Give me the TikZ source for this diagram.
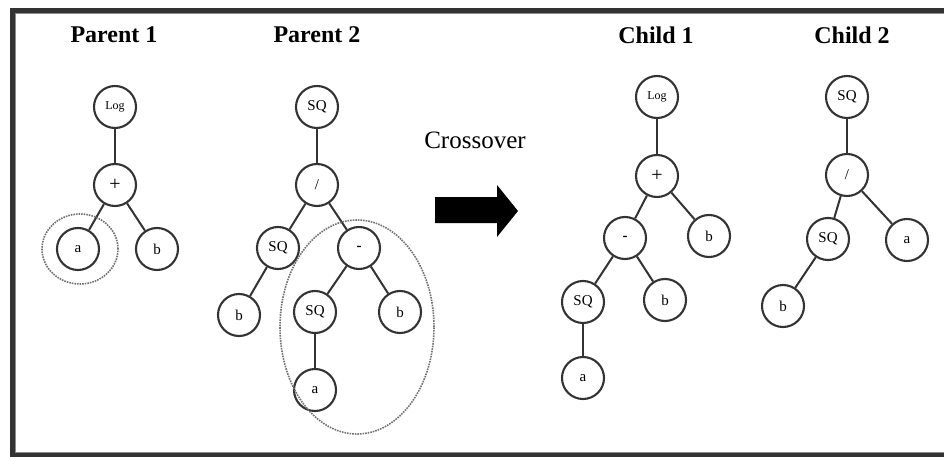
\documentclass[tikz,border=0pt]{standalone}
\usepackage{fontspec}
\setmainfont{Liberation Serif}
\usetikzlibrary{shapes.geometric}
\begin{document}
\begin{tikzpicture}[x=1pt,y=-1pt,
  tn/.style={circle,draw=black!80,line width=2.1pt,minimum size=42pt,inner sep=0pt,font=\fontsize{15}{15}\selectfont},
  sm/.style={font=\fontsize{12}{12}\selectfont},
  edge/.style={draw=black!80,line width=2pt},
  sel/.style={draw=black!55,densely dotted,line width=1.6pt},
  title/.style={font=\fontsize{24}{25}\bfseries\selectfont},
  ]
\useasboundingbox (0,0) rectangle (944,457);
\fill[white] (0,0) rectangle (944,457);
\begin{scope}
\clip (0,0) rectangle (944,457);
\draw[draw=black!80,line width=6pt] (12.5,11) rectangle (970,455);
\draw[draw=black!45,line width=1pt] (15.5,14) rectangle (970,452);
\end{scope}
% titles
\node[title] (t1) at (114,35) {Parent 1};
\node[title] (t2) at (317,35) {Parent 2};
\node[title] (t3) at (656,35) {Child 1};
\node[title] (t4) at (852,35) {Child 2};
\node[font=\fontsize{25}{26}\selectfont] (cx) at (475,140) {Crossover};
% arrow
\fill[black] (435,197) -- (497,197) -- (497,185) -- (518,211) -- (497,237) -- (497,223) -- (435,223) -- cycle;
% Parent 1
\node[tn,sm] (a1) at (115,107) {Log};
\node[tn] (a2) at (115,185) {\fontsize{20}{20}\selectfont +};
\node[tn] (a3) at (78,249) {a};
\node[tn] (a4) at (157,249) {b};
\draw[edge] (a1) -- (a2); \draw[edge] (a2) -- (a3); \draw[edge] (a2) -- (a4);
\node[sel,ellipse,minimum width=76pt,minimum height=70pt,inner sep=0pt] (s1) at (80,249) {};
% Parent 2
\node[tn] (b1) at (317,107) {SQ};
\node[tn] (b2) at (317,185) {/};
\node[tn] (b3) at (278,248) {SQ};
\node[tn] (b4) at (359,248) {\textbf{-}};
\node[tn] (b5) at (239,315) {b};
\node[tn] (b6) at (315,312) {SQ};
\node[tn] (b7) at (400,312) {b};
\node[tn] (b8) at (315,390) {a};
\draw[edge] (b1) -- (b2); \draw[edge] (b2) -- (b3); \draw[edge] (b2) -- (b4);
\draw[edge] (b3) -- (b5); \draw[edge] (b4) -- (b6); \draw[edge] (b4) -- (b7);
\draw[edge] (b6) -- (b8);
\node[sel,ellipse,minimum width=154pt,minimum height=214pt,inner sep=0pt] (s2) at (357,327) {};
% Child 1
\node[tn,sm] (c1) at (657,97) {Log};
\node[tn] (c2) at (657,176) {\fontsize{20}{20}\selectfont +};
\node[tn] (c3) at (625,238) {\textbf{-}};
\node[tn] (c4) at (709,236) {b};
\node[tn] (c5) at (583,302) {SQ};
\node[tn] (c6) at (665,300) {b};
\node[tn] (c7) at (583,378) {a};
\draw[edge] (c1) -- (c2); \draw[edge] (c2) -- (c3); \draw[edge] (c2) -- (c4);
\draw[edge] (c3) -- (c5); \draw[edge] (c3) -- (c6); \draw[edge] (c5) -- (c7);
% Child 2
\node[tn] (d1) at (847,97) {SQ};
\node[tn] (d2) at (847,175) {/};
\node[tn] (d3) at (828,239) {SQ};
\node[tn] (d4) at (907,240) {a};
\node[tn] (d5) at (783,306) {b};
\draw[edge] (d1) -- (d2); \draw[edge] (d2) -- (d3); \draw[edge] (d2) -- (d4);
\draw[edge] (d3) -- (d5);
\end{tikzpicture}
\end{document}
